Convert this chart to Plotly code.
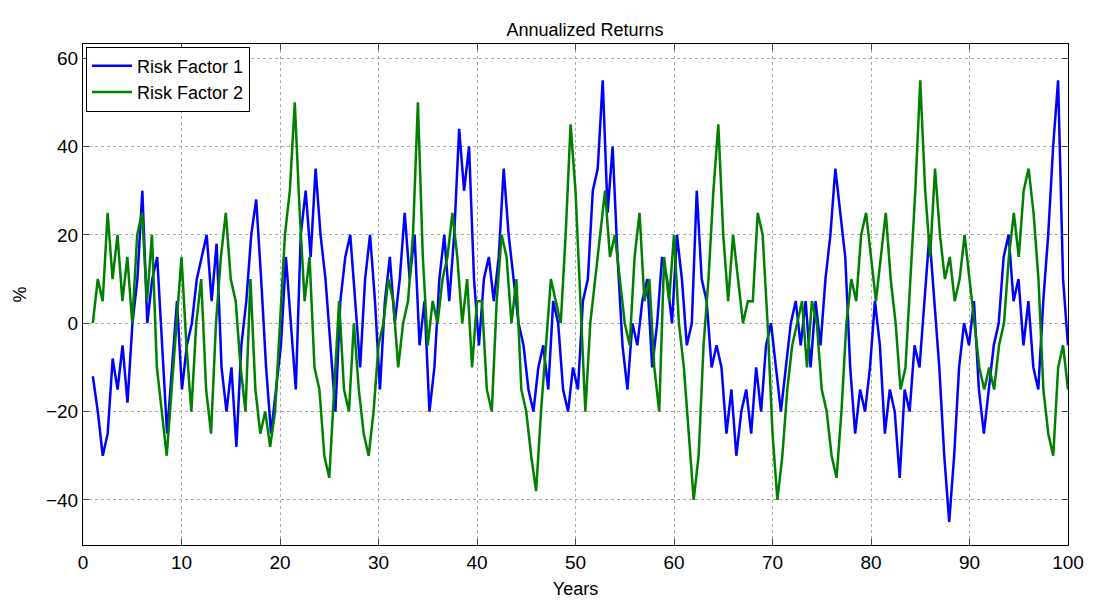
import numpy as np
import plotly.graph_objects as go

rf1 = [-12,-20,-30,-25,-8,-15,-5,-18,0,10,30,0,10,15,-5,-25,-10,5,-15,-5,0,10,15,20,5,18,-10,-20,-10,-28,-5,5,20,28,10,-10,-25,-15,-5,15,0,-15,20,30,15,35,20,10,-5,-20,5,15,20,5,-10,10,20,5,-15,5,15,0,10,25,10,20,-5,5,-20,-10,10,20,5,20,44,30,40,10,-5,10,15,5,15,35,20,10,0,-5,-15,-20,-10,-5,-15,5,0,-15,-20,-10,-15,5,10,30,35,55,25,40,15,-5,-15,0,-5,5,10,-10,0,15,10,0,20,10,-5,0,30,10,5,-10,-5,-10,-25,-15,-30,-20,-15,-25,-10,-20,-5,0,-10,-20,-10,0,5,-5,5,-10,5,-5,10,20,35,25,15,-10,-25,-15,-20,-10,5,-5,-25,-15,-20,-35,-15,-20,-5,-10,5,20,5,-10,-30,-45,-30,-10,0,-5,5,-15,-25,-15,-5,0,15,20,5,10,-5,5,-10,-15,5,20,40,55,10,-5]
rf2 = [0,10,5,25,10,20,5,15,0,20,25,5,20,-10,-20,-30,-15,0,15,-5,-20,0,10,-15,-25,0,15,25,10,5,-10,-20,10,-15,-25,-20,-28,-20,0,20,30,50,25,5,15,-10,-15,-30,-35,-15,5,-15,-20,0,-15,-25,-30,-20,-5,0,10,5,-10,0,5,20,50,15,-5,5,0,10,15,25,15,0,10,-10,5,5,-15,-20,5,20,15,0,10,-15,-20,-30,-38,-20,-5,10,5,0,20,45,30,5,-20,0,10,20,30,15,20,10,0,-5,15,25,5,10,-10,-20,15,5,20,0,-10,-25,-40,-30,-5,10,30,45,20,5,20,10,0,5,5,25,20,0,-25,-40,-30,-15,-5,0,5,-10,5,0,-15,-20,-30,-35,-20,0,10,5,20,25,15,5,15,25,10,0,-15,-10,10,30,55,30,15,35,20,10,15,5,10,20,10,0,-10,-15,-10,-15,-5,0,15,25,15,30,35,25,10,-15,-25,-30,-10,-5,-15]

x1 = np.linspace(1, 100, len(rf1))
x2 = np.linspace(1, 100, len(rf2))

fig = go.Figure()
fig.add_trace(go.Scatter(x=x1, y=rf1, mode="lines", name="Risk Factor 1", line=dict(color="#0000ff", width=2.5)))
fig.add_trace(go.Scatter(x=x2, y=rf2, mode="lines", name="Risk Factor 2", line=dict(color="#008000", width=2.5)))

ax = dict(showline=True, linecolor="black", linewidth=1, mirror="ticks", ticks="inside", ticklen=6,
          showgrid=True, gridcolor="#aaaaaa", griddash="dot", gridwidth=1, zeroline=False, automargin=False,
          tickfont=dict(size=19, color="black"))
fig.update_xaxes(range=[0, 100], dtick=10, title=dict(text="Years", font=dict(size=18, color="black"), standoff=10), **ax)
fig.update_yaxes(range=[-50.2, 63.2], tickvals=[-40, -20, 0, 20, 40, 60], tickformat="d",
                 title=dict(text="%", font=dict(size=18, color="black"), standoff=14), **ax)
fig.update_layout(
    width=1095, height=613, plot_bgcolor="white", paper_bgcolor="white",
    margin=dict(l=75, r=35, t=36, b=76, autoexpand=False),
    font=dict(family="Liberation Sans, Arial", color="black"),
    title=dict(text="Annualized Returns", x=0.527, xanchor="center", y=0.975, font=dict(size=18)),
    legend=dict(x=0.003, y=0.995, xanchor="left", yanchor="top", bordercolor="black", borderwidth=1,
                bgcolor="white", font=dict(size=18), tracegroupgap=0, itemwidth=40),
    showlegend=True,
)
fig.write_html("out.html")
